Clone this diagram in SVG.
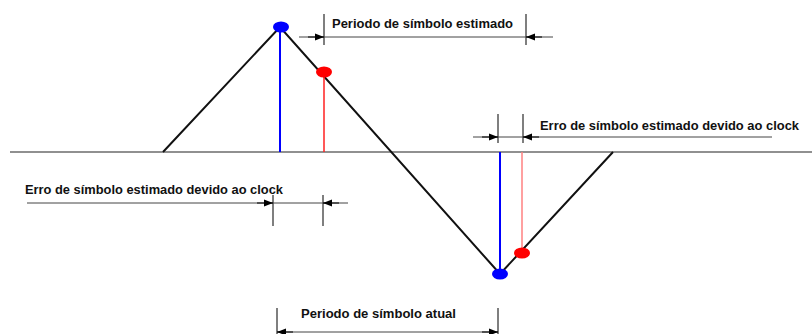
<svg xmlns="http://www.w3.org/2000/svg" width="812" height="334" viewBox="0 0 812 334">
<style>
.lbl{font-family:"Liberation Sans",Arial,sans-serif;font-weight:bold;font-size:13.5px;fill:#111}
.tick{stroke:#555;stroke-width:1.5}
.dim{stroke:#444;stroke-width:1}
.wave{stroke:#111;stroke-width:2;fill:none}
</style>
<defs>
<marker id="ah" viewBox="0 0 10 10" refX="10" refY="5" markerWidth="16" markerHeight="9" markerUnits="userSpaceOnUse" orient="auto">
<path d="M0,1 L10,5 L0,9 Z" fill="#000"/>
</marker>
</defs>
<rect width="812" height="334" fill="#fff"/>
<g id="baseline"><line x1="10" y1="152" x2="812" y2="152" stroke="#222" stroke-width="1.2"/></g>
<g id="waveform"><polyline class="wave" points="163,152 280,27 500,274 613,152"/></g>
<g id="samples">
<line x1="280" y1="27" x2="280" y2="152" stroke="#0000ff" stroke-width="2"/>
<line x1="324" y1="72" x2="324" y2="152" stroke="#ff2020" stroke-width="1.5"/>
<line x1="500" y1="152" x2="500" y2="274" stroke="#0000ff" stroke-width="2"/>
<line x1="522" y1="152" x2="522" y2="253" stroke="#ff8080" stroke-width="1.5"/>
<ellipse cx="281" cy="27" rx="8" ry="5.5" fill="#0000ff"/>
<ellipse cx="324" cy="72" rx="8" ry="5.5" fill="#ff0000"/>
<ellipse cx="500" cy="274" rx="8" ry="5.5" fill="#0000ff"/>
<ellipse cx="522" cy="253" rx="8" ry="5.5" fill="#ff0000"/>
</g>
<g id="connectors">
<g id="dim-top">
<line class="tick" x1="324" y1="14" x2="324" y2="45"/>
<line class="tick" x1="526" y1="14" x2="526" y2="45"/>
<line class="dim" x1="299" y1="37" x2="553" y2="37"/>
<line x1="308" y1="37" x2="324" y2="37" stroke="#000" marker-end="url(#ah)"/>
<line x1="542" y1="37" x2="526" y2="37" stroke="#000" marker-end="url(#ah)"/>
</g>
<g id="dim-right">
<line class="tick" x1="498" y1="114" x2="498" y2="143"/>
<line class="tick" x1="523" y1="114" x2="523" y2="143"/>
<line class="dim" x1="473" y1="137" x2="772" y2="137"/>
<line x1="482" y1="137" x2="498" y2="137" stroke="#000" marker-end="url(#ah)"/>
<line x1="539" y1="137" x2="523" y2="137" stroke="#000" marker-end="url(#ah)"/>
</g>
<g id="dim-left">
<line class="tick" x1="273" y1="195" x2="273" y2="226"/>
<line class="tick" x1="323" y1="195" x2="323" y2="226"/>
<line class="dim" x1="27" y1="203" x2="348" y2="203"/>
<line x1="257" y1="203" x2="273" y2="203" stroke="#000" marker-end="url(#ah)"/>
<line x1="339" y1="203" x2="323" y2="203" stroke="#000" marker-end="url(#ah)"/>
</g>
<g id="dim-bottom">
<line class="tick" x1="277" y1="308" x2="277" y2="334"/>
<line class="tick" x1="498" y1="308" x2="498" y2="334"/>
<line class="dim" x1="277" y1="332" x2="498" y2="332"/>
<line x1="293" y1="332" x2="277" y2="332" stroke="#000" marker-end="url(#ah)"/>
<line x1="482" y1="332" x2="498" y2="332" stroke="#000" marker-end="url(#ah)"/>
</g>
</g>
<g id="labels">
<text class="lbl" x="332" y="28" textLength="181" lengthAdjust="spacingAndGlyphs">Periodo de símbolo estimado</text>
<text class="lbl" x="540" y="130" style="font-size:13px" textLength="259" lengthAdjust="spacingAndGlyphs">Erro de símbolo estimado devido ao clock</text>
<text class="lbl" x="25" y="194" textLength="258" lengthAdjust="spacingAndGlyphs">Erro de símbolo estimado devido ao clock</text>
<text class="lbl" x="301" y="318" textLength="155" lengthAdjust="spacingAndGlyphs">Periodo de símbolo atual</text>
</g>
</svg>
